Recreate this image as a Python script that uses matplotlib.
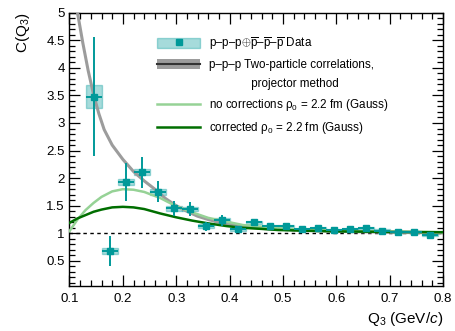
import matplotlib
matplotlib.use("Agg")
import matplotlib.pyplot as plt
from matplotlib.lines import Line2D
from matplotlib.patches import Patch
from matplotlib.ticker import MultipleLocator, FuncFormatter

plt.rcParams["font.family"] = ["Liberation Sans", "DejaVu Sans"]
plt.rcParams["mathtext.fontset"] = "custom"
plt.rcParams["mathtext.rm"] = "Liberation Sans"
plt.rcParams["mathtext.it"] = "Liberation Sans:italic"

# p-p-p (+ antiparticles) three-particle correlation function
q3 = [0.145, 0.175, 0.205, 0.235, 0.265, 0.295, 0.325, 0.355, 0.385, 0.415, 0.445,
      0.475, 0.505, 0.535, 0.565, 0.595, 0.625, 0.655, 0.685, 0.715, 0.745, 0.775]
c3 = [3.48, 0.68, 1.93, 2.11, 1.75, 1.45, 1.44, 1.13, 1.24, 1.07, 1.20,
      1.13, 1.13, 1.08, 1.10, 1.06, 1.07, 1.10, 1.05, 1.03, 1.03, 0.97]
stat = [1.07, 0.28, 0.34, 0.28, 0.19, 0.14, 0.12, 0.08, 0.10, 0.05, 0.04,
        0.04, 0.03, 0.03, 0.03, 0.03, 0.03, 0.02, 0.02, 0.02, 0.02, 0.02]
syst = [0.21, 0.05, 0.06, 0.06, 0.05, 0.04, 0.04, 0.03, 0.03, 0.02, 0.03,
        0.02, 0.02, 0.02, 0.02, 0.02, 0.02, 0.02, 0.02, 0.02, 0.02, 0.02]
bin_half = 0.015

# two-particle correlations, projector method
proj_q = [0.115, 0.125, 0.135, 0.145, 0.155, 0.165, 0.18, 0.20, 0.22, 0.24, 0.26,
          0.28, 0.30, 0.32, 0.34, 0.36, 0.38, 0.40, 0.43, 0.46, 0.50, 0.55,
          0.60, 0.70, 0.80]
proj_c = [5.0, 4.45, 3.95, 3.52, 3.17, 2.88, 2.60, 2.34, 2.12, 1.95, 1.80,
          1.63, 1.50, 1.40, 1.31, 1.25, 1.20, 1.16, 1.12, 1.09, 1.07, 1.05,
          1.035, 1.02, 1.01]

# Gaussian source, rho0 = 2.2 fm
gauss_q = [0.10, 0.115, 0.13, 0.145, 0.16, 0.18, 0.20, 0.22, 0.24, 0.27, 0.30,
           0.33, 0.36, 0.395, 0.425, 0.46, 0.49, 0.55, 0.60, 0.70, 0.80]
nocorr_c = [1.04, 1.25, 1.42, 1.55, 1.66, 1.76, 1.80, 1.79, 1.75, 1.64, 1.49,
            1.38, 1.28, 1.21, 1.15, 1.12, 1.09, 1.06, 1.045, 1.03, 1.02]
corr_c = [1.19, 1.27, 1.33, 1.39, 1.43, 1.47, 1.48, 1.47, 1.44, 1.36, 1.29,
          1.23, 1.18, 1.13, 1.10, 1.08, 1.06, 1.045, 1.035, 1.025, 1.02]

teal = "#009999"
light_green = "#96d296"
dark_green = "#006e00"
band_gray = "#9c9c9c"

fig = plt.figure(figsize=(4.56, 3.31), dpi=100)
ax = fig.add_axes([0.1524, 0.136, 0.8191, 0.8257])

ax.axhline(1.0, color="black", lw=1.0, ls=(0, (2.5, 2.5)), zorder=1)

lows = [c - s for c, s in zip(c3, syst)]
heights = [2 * s for s in syst]
ax.bar(q3, heights, bottom=lows, width=2 * bin_half, color=teal, alpha=0.35,
       edgecolor=teal, linewidth=1.0, zorder=2)

ax.plot(proj_q, proj_c, color=band_gray, lw=2.2, zorder=3)
ax.plot(gauss_q, nocorr_c, color=light_green, lw=1.8, zorder=4)
ax.plot(gauss_q, corr_c, color=dark_green, lw=1.8, zorder=5)

ax.errorbar(q3, c3, yerr=stat, xerr=bin_half, fmt="s", ms=4, color=teal,
            elinewidth=1.4, capsize=0, zorder=6)

ax.set_xlim(0.1, 0.8)
ax.set_ylim(0.045, 5)
ax.xaxis.set_major_locator(MultipleLocator(0.1))
ax.xaxis.set_minor_locator(MultipleLocator(0.02))
ax.yaxis.set_major_locator(MultipleLocator(0.5))
ax.yaxis.set_minor_locator(MultipleLocator(0.1))
fmt = FuncFormatter(lambda v, _: f"{v:g}")
ax.xaxis.set_major_formatter(fmt)
ax.yaxis.set_major_formatter(fmt)
ax.tick_params(which="both", direction="in", top=True, right=True,
               labelsize=9.5, width=0.9, colors="black")
ax.tick_params(which="major", length=8)
ax.tick_params(which="minor", length=4)
ax.tick_params(axis="x", pad=5)
for sp in ax.spines.values():
    sp.set_linewidth(1.0)

ax.set_xlabel(r"Q$_3$ (GeV/$c$)", fontsize=11, loc="right", labelpad=4)
ax.set_ylabel(r"C(Q$_3$)", fontsize=11, loc="top", labelpad=10)

handles = [
    (Patch(facecolor=teal, alpha=0.35, edgecolor=teal),
     Line2D([], [], marker="s", ms=4, color=teal, ls="none")),
    (Patch(facecolor=band_gray, edgecolor="none"),
     Line2D([], [], color="#333333", lw=1.5)),
    Line2D([], [], color="none"),
    Line2D([], [], color=light_green, lw=1.8),
    Line2D([], [], color=dark_green, lw=1.8),
]
labels = [
    r"p–p–p$\oplus\overline{\mathrm{p}}$–$\overline{\mathrm{p}}$–$\overline{\mathrm{p}}$ Data",
    "p–p–p Two-particle correlations,",
    "             projector method",
    r"no corrections ρ$_0$ = 2.2 fm (Gauss)",
    r"corrected ρ$_0$ = 2.2 fm (Gauss)",
]
ax.legend(handles, labels, loc="upper left", bbox_to_anchor=(0.235, 0.918),
          frameon=False, fontsize=8.4, handlelength=3.7, handleheight=1.0,
          handletextpad=0.7, labelspacing=0.6, borderpad=0, borderaxespad=0)

fig.savefig("out.png", dpi=100)
